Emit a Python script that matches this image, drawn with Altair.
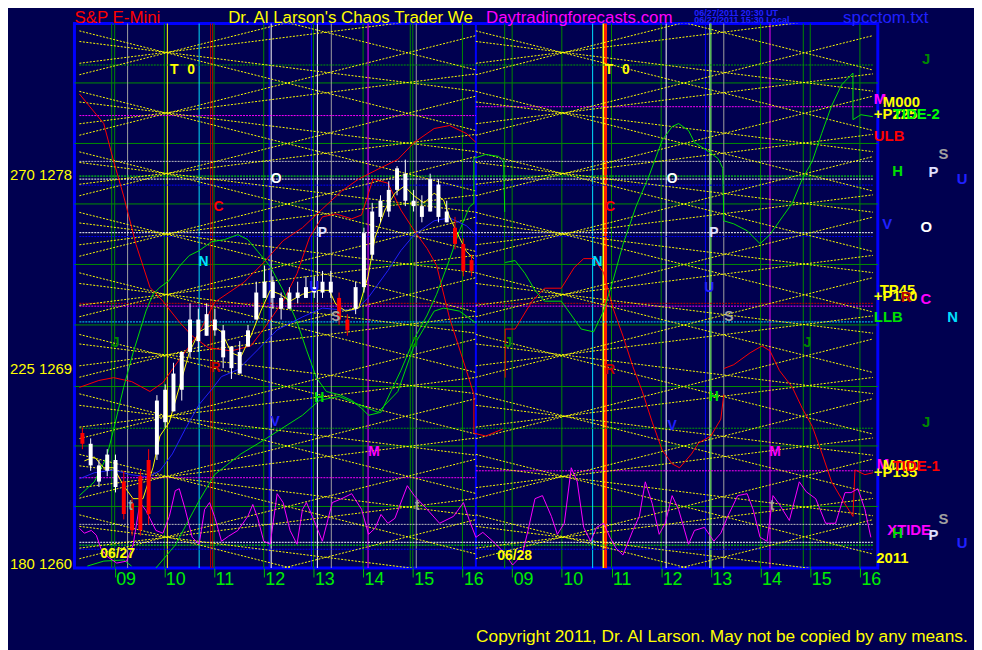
import altair as alt
import pandas as pd

FONT = "Liberation Sans"
BG = "#000050"

# ---------------- scales ----------------
X_DOMAIN = [0.29, 16.26]          # session hours: day1 h-8, day2 h
Y_DOMAIN = [1260.0, 1285.2]       # price
hour_ticks = list(range(1, 17))
hour_labels = ["09", "10", "11", "12", "13", "14", "15", "16",
               "09", "10", "11", "12", "13", "14", "15", "16"]
price_ticks = [1260, 1269, 1278]
price_tick_labels = ["180 1260", "225 1269", "270 1278"]

# ---------------- grid ----------------
green_levels = [1282.45, 1279.65, 1276.85, 1274.05, 1271.25, 1268.40, 1265.65, 1262.85]

vl_u = [0.94, 1.0, 1.26, 2.0, 2.06, 2.70, 2.93, 2.97, 3.0, 4.0, 4.11, 4.15, 4.96, 5.0,
        5.08, 5.36, 6.0, 6.10, 6.95, 7.0, 7.07, 8.0, 8.27, 8.85, 9.0, 10.0, 10.62,
        10.84, 10.88, 11.0, 12.0, 12.10, 12.89, 12.99, 13.0, 13.26, 14.0, 14.19,
        14.86, 15.0, 16.0]
vl_c = ["#008800", "#008800", "#a0a0a0", "#008800", "#ffff00", "#00e0ff", "#b00000",
        "#b00000", "#008800", "#008800", "#0000ff", "#ffffff", "#0000ff", "#008800",
        "#ffffff", "#a0a0a0", "#008800", "#ff00ff", "#008800", "#008800", "#a0a0a0",
        "#008800", "#0000ff", "#008800", "#008800", "#008800", "#00e0ff",
        "#ffff00", "#ff2000", "#008800", "#008800", "#ffffff", "#0000ff", "#e8ffe8",
        "#008800", "#a0a0a0", "#008800", "#ff00ff", "#008800", "#008800", "#008800"]
vl_w = [1, 1, 1, 1, 1, 1, 1, 1, 1, 1, 1, 1, 1, 1,
        1, 1, 1, 1, 1, 1, 1, 1, 2, 1, 1, 1, 1,
        2, 3, 1, 1, 1, 1, 2, 1, 1, 1, 1, 1, 1, 1]

# horizontal dotted levels: price, from, to, colour
hd_p = [1283.28, 1280.94, 1281.35, 1278.82, 1278.14, 1278.0, 1277.72, 1275.52, 1275.34,
        1272.25, 1272.12, 1271.39, 1266.47, 1264.18, 1264.5, 1262.02, 1261.19, 1261.06, 1260.87]
hd_a = [0.29, 0.29, 8.27, 0.29, 0.29, 0.29, 0.29, 0.29, 0.29,
        0.29, 0.29, 0.29, 0.29, 0.29, 8.27, 0.29, 0.29, 0.29, 0.29]
hd_b = [16.26, 8.27, 16.26, 16.26, 16.26, 16.26, 16.26, 16.26, 16.26,
        16.26, 16.26, 16.26, 16.26, 8.27, 16.26, 16.26, 16.26, 16.26, 16.26]
hd_c = ["#00a000", "#ff00ff", "#ff00ff", "#c0c0c0", "#00ff00", "#ffffff", "#0000ff", "#ffffff", "#0000ff",
        "#c00000", "#ff00ff", "#00e0ff", "#00a000", "#ff00ff", "#ff00ff", "#c0c0c0", "#ffffff", "#00ff00", "#0000ff"]

# ---------------- yellow projection lines: price at session open / close ----------------
yl1_left = [1287.66, 1284.86, 1282.06, 1279.26, 1276.46, 1273.66, 1270.81, 1268.06, 1265.26, 1262.46,
            1282.83, 1280.03, 1277.23, 1274.43, 1271.63, 1268.83, 1265.99, 1263.23, 1260.43, 1257.63,
            1284.37, 1281.57, 1278.77, 1275.97, 1273.17, 1270.37, 1267.53, 1264.73, 1261.93,
            1283.36, 1280.56, 1277.76, 1274.96, 1272.16, 1269.36, 1266.52, 1263.72, 1260.92]
yl1_right = [1283.05, 1280.25, 1277.45, 1274.65, 1271.85, 1269.05, 1266.20, 1263.45, 1260.65, 1257.85,
             1287.44, 1284.64, 1281.84, 1279.04, 1276.24, 1273.44, 1270.60, 1267.84, 1265.04, 1262.24,
             1282.07, 1279.27, 1276.47, 1273.67, 1270.87, 1268.07, 1265.22, 1262.42, 1259.62,
             1285.67, 1282.87, 1280.07, 1277.27, 1274.47, 1271.67, 1268.82, 1266.02, 1263.22]
yl2_left = list(yl1_left)
yl2_right = list(yl1_right)
day_open = [0.29, 8.27]
day_close = [8.27, 16.26]

# ---------------- candles (day 1, 10-minute bars) ----------------
bar_open = [1266.25, 1264.75, 1264.0, 1264.5, 1263.75, 1264.0, 1263.0, 1264.25, 1265.0, 1265.25,
            1266.75, 1267.25, 1268.25, 1270.0, 1270.5, 1270.75, 1271.5, 1271.0, 1270.25, 1269.0,
            1270.25, 1271.5, 1272.5, 1273.25, 1272.5, 1272.0, 1272.75, 1272.5, 1273.0, 1272.75,
            1273.25, 1272.5, 1271.5, 1272.0, 1273.0, 1274.5, 1276.25, 1276.5, 1277.5, 1278.25,
            1277.0, 1276.75, 1276.5, 1277.75, 1276.5, 1275.75, 1275.0, 1273.75]
bar_close = [1265.75, 1265.75, 1264.75, 1265.25, 1265.0, 1262.5, 1261.75, 1261.75, 1262.5, 1267.75,
             1268.25, 1269.0, 1270.0, 1271.5, 1271.5, 1271.75, 1271.0, 1269.75, 1269.25, 1270.0,
             1271.0, 1272.75, 1273.25, 1272.5, 1272.0, 1272.75, 1272.5, 1273.0, 1272.75, 1273.25,
             1272.75, 1271.5, 1271.0, 1273.0, 1275.5, 1276.5, 1277.0, 1277.5, 1278.5, 1277.0,
             1276.75, 1276.25, 1278.0, 1276.25, 1276.0, 1275.0, 1273.75, 1274.25]
bar_high = [1266.5, 1266.0, 1265.0, 1265.5, 1265.25, 1264.5, 1263.25, 1264.5, 1265.5, 1268.0,
            1268.5, 1269.5, 1270.0, 1272.25, 1272.0, 1272.25, 1272.0, 1271.25, 1270.25, 1270.5,
            1271.25, 1273.25, 1274.0, 1273.5, 1272.75, 1273.0, 1273.25, 1273.5, 1273.5, 1273.75,
            1273.75, 1272.75, 1271.75, 1273.25, 1275.75, 1276.9, 1277.25, 1277.9, 1278.6, 1278.9,
            1277.5, 1277.25, 1278.25, 1278.0, 1277.0, 1276.25, 1275.25, 1274.5]
bar_low = [1265.5, 1264.5, 1263.75, 1264.25, 1263.5, 1262.25, 1261.5, 1261.5, 1262.0, 1265.0,
           1266.5, 1267.25, 1267.75, 1269.75, 1270.0, 1270.75, 1270.75, 1269.25, 1268.75, 1269.0,
           1270.25, 1271.5, 1272.5, 1272.0, 1271.5, 1272.0, 1272.25, 1272.5, 1272.5, 1272.5,
           1272.5, 1271.25, 1270.75, 1271.75, 1272.75, 1274.25, 1276.0, 1276.25, 1277.25, 1276.75,
           1276.5, 1276.0, 1276.5, 1276.0, 1276.0, 1274.75, 1273.5, 1273.5]
bar_col = list("RWWWWRRRRWWWWWWWWWWWWWWWWWWWWWWRRWWWWWWWWWWWWRRR")

# ---------------- curves ----------------
curves = {
    "redA": ("#ff0000",
             [0.29, 0.78, 0.98, 1.18, 1.43, 1.71, 1.97, 2.30, 2.56, 2.89, 3.35, 3.74, 4.00, 4.39, 4.67,
              4.92, 5.18, 5.45, 5.77, 5.97, 6.20, 6.50, 6.76, 7.03, 7.29, 7.48, 7.74, 8.08, 8.23, 8.23,
              8.47, 8.81],
             [1281.94, 1280.57, 1278.82, 1277.22, 1274.97, 1272.99, 1272.35, 1271.39, 1270.74, 1270.19,
              1270.05, 1270.28, 1271.06, 1272.35, 1273.63, 1275.29, 1276.25, 1276.39, 1276.16, 1276.34,
              1278.0, 1277.81, 1276.57, 1275.61, 1274.78, 1274.0, 1271.57, 1269.14, 1268.03, 1266.24,
              1266.11, 1266.43]),
    "redB": ("#ff0000",
             [0.29, 0.68, 0.98, 1.34, 1.71, 1.97, 2.30, 2.70, 3.01, 3.60, 4.00, 4.39, 4.78, 5.18, 5.57,
              5.91, 6.30, 6.70, 7.03, 7.43, 7.74, 8.08, 8.27],
             [1268.36, 1268.68, 1268.81, 1268.63, 1268.17, 1268.58, 1269.64, 1270.88, 1272.30, 1273.22,
              1274.14, 1275.15, 1275.75, 1276.62, 1277.45, 1278.0, 1278.46, 1278.91, 1279.70, 1280.34,
              1280.48, 1280.11, 1279.70]),
    "redC": ("#ff0000",
             [8.86, 8.86, 9.06, 9.40, 9.65, 9.99, 10.25, 10.44, 10.64, 10.84, 11.03, 11.23, 11.43, 11.62,
              11.82, 12.02, 12.22, 12.37, 12.61, 12.75, 13.00, 13.20, 13.26],
             [1268.81, 1271.06, 1271.06, 1272.35, 1272.95, 1272.95, 1273.91, 1274.32, 1274.32, 1273.68,
              1272.03, 1270.74, 1269.32, 1268.17, 1266.75, 1265.46, 1264.82, 1264.64, 1265.28, 1265.78,
              1266.11, 1266.89, 1268.03]),
    "redD": ("#ff0000",
             [13.26, 13.46, 13.79, 14.03, 14.19, 14.38, 14.64, 14.84, 15.04, 15.24, 15.43, 15.63, 15.86,
              15.90, 16.10, 16.26],
             [1269.23, 1269.41, 1269.96, 1270.28, 1270.05, 1269.14, 1268.36, 1267.39, 1266.56, 1265.28,
              1263.99, 1263.21, 1262.39, 1264.54, 1264.32, 1264.41]),
    "grn1": ("#00e000",
             [0.29, 0.59, 0.84, 0.98, 1.18, 1.37, 1.63, 1.77, 1.91, 2.10, 2.30, 2.50, 2.70, 2.95, 3.21,
              3.48, 3.68, 3.88, 4.13, 4.39, 4.67, 4.86, 5.06, 5.26, 5.51, 5.77, 5.97, 6.11, 6.36, 6.76,
              7.03, 7.29, 7.48, 7.74, 7.94, 8.14, 8.23, 8.23, 8.47, 8.73, 8.83, 8.85],
             [1263.35, 1263.99, 1265.14, 1266.43, 1268.36, 1269.96, 1271.89, 1272.67, 1272.99, 1273.31,
              1273.96, 1274.46, 1274.69, 1275.10, 1275.20, 1275.43, 1275.20, 1274.65, 1273.96, 1272.85,
              1271.39, 1270.10, 1268.81, 1268.17, 1268.03, 1267.76, 1267.39, 1267.07, 1267.21, 1269.14,
              1270.61, 1271.71, 1272.67, 1274.28, 1275.61, 1276.71, 1276.89, 1278.96, 1279.14, 1279.05,
              1278.82, 1276.48]),
    "grn2": ("#00e000",
             [1.83, 2.22, 2.70, 3.01, 3.54, 4.00, 4.78, 5.12, 5.51, 5.91, 6.30, 6.70, 7.03, 7.43, 7.62,
              7.94, 8.27],
             [1260.0, 1261.06, 1263.12, 1264.32, 1265.28, 1265.92, 1267.07, 1267.76, 1267.94, 1267.57,
              1267.21, 1268.17, 1270.33, 1271.89, 1272.03, 1271.89, 1271.34]),
    "grn0": ("#00e000", [0.45, 0.78, 1.18, 1.34], [1260.09, 1260.32, 1260.37, 1260.09]),
    "grn3": ("#00e000",
             [8.86, 9.06, 9.26, 9.46, 9.65, 9.99, 10.19, 10.39, 10.64, 10.84, 11.03, 11.23, 11.49, 11.76,
              12.02, 12.22, 12.35, 12.55, 12.67, 12.95, 13.14, 13.24, 13.26, 13.46, 13.73, 13.99, 14.19,
              14.44, 14.64, 14.84, 15.04, 15.23, 15.43, 15.63, 15.86, 15.86, 16.02, 16.26],
             [1274.14, 1274.23, 1273.63, 1272.85, 1272.35, 1272.35, 1271.71, 1271.06, 1270.93, 1271.89,
              1273.31, 1274.97, 1276.71, 1278.18, 1279.79, 1280.43, 1280.57, 1280.25, 1279.70, 1279.28,
              1278.96, 1278.50, 1276.07, 1275.93, 1275.61, 1275.01, 1275.43, 1276.25, 1276.89, 1278.0,
              1278.82, 1280.11, 1281.39, 1282.36, 1282.91, 1280.75, 1280.98, 1280.89]),
    "blue": ("#2020ff",
             [0.29, 0.59, 0.98, 1.32, 1.67, 1.91, 2.16, 2.42, 2.70, 2.95, 3.15, 3.48, 3.88, 4.27, 4.78,
              5.18, 5.61, 5.85, 6.11, 6.50, 6.76, 7.03, 7.43, 7.74, 8.08, 8.27],
             [1264.13, 1264.41, 1264.54, 1264.32, 1264.22, 1264.50, 1265.28, 1266.43, 1267.57, 1268.26,
              1268.86, 1269.18, 1270.10, 1271.02, 1271.62, 1272.03, 1271.94, 1271.94, 1272.53, 1273.77,
              1274.69, 1275.43, 1276.07, 1276.21, 1275.84, 1275.43]),
    "yma": ("#ffff00",
            [0.39, 0.59, 0.78, 0.98, 1.18, 1.37, 1.57, 1.77, 1.91, 2.10, 2.30, 2.50, 2.70, 2.95, 3.15,
             3.35, 3.54, 3.74, 3.94, 4.13, 4.33, 4.53, 4.78, 5.06, 5.32, 5.45, 5.65, 5.91, 6.10, 6.24,
             6.44, 6.64, 6.83, 7.03, 7.23, 7.43, 7.62, 7.74, 7.94, 8.08, 8.23],
            [1264.96, 1265.14, 1264.64, 1264.64, 1263.81, 1263.21, 1263.21, 1264.64, 1266.11, 1266.75,
             1268.36, 1269.96, 1270.93, 1271.25, 1270.93, 1269.96, 1269.78, 1270.74, 1271.89, 1272.85,
             1272.67, 1272.35, 1272.67, 1272.85, 1272.85, 1272.21, 1271.89, 1272.03, 1273.50, 1275.29,
             1276.57, 1277.35, 1277.67, 1277.22, 1276.89, 1277.35, 1277.03, 1276.25, 1275.29, 1274.65,
             1274.32]),
    "mag1": ("#ff00ff",
             [0.29, 0.39, 0.53, 0.63, 0.72, 0.84, 1.04, 1.24, 1.37, 1.51, 1.63, 1.83, 1.97, 2.10, 2.22,
              2.30, 2.42, 2.56, 2.70, 2.81, 2.91, 3.01, 3.15, 3.29, 3.48, 3.68, 3.78, 3.88, 4.00, 4.13,
              4.27, 4.39, 4.53, 4.67, 4.78, 4.86, 4.98, 5.18, 5.38, 5.57, 5.77, 5.97, 6.11, 6.24, 6.36,
              6.50, 6.64, 6.89, 7.03, 7.29, 7.54, 7.82, 8.02, 8.14, 8.27],
             [1261.84, 1261.61, 1261.74, 1261.52, 1260.92, 1260.55, 1260.23, 1260.32, 1261.06, 1263.03,
              1262.66, 1261.74, 1261.61, 1262.39, 1263.58, 1263.67, 1262.71, 1261.42, 1261.10, 1262.71,
              1263.03, 1262.39, 1261.24, 1261.47, 1261.74, 1262.39, 1262.94, 1262.30, 1261.24, 1261.10,
              1263.44, 1263.03, 1261.74, 1261.10, 1262.71, 1263.03, 1262.39, 1261.24, 1263.03, 1263.21,
              1263.44, 1262.71, 1261.56, 1261.84, 1262.48, 1262.07, 1262.30, 1263.81, 1263.35, 1262.71,
              1262.07, 1262.39, 1263.03, 1262.20, 1261.42]),
    "mag2": ("#ff00ff",
             [8.27, 8.41, 8.61, 8.81, 9.01, 9.20, 9.32, 9.46, 9.61, 9.79, 9.91, 10.05, 10.19, 10.31,
              10.44, 10.58, 10.70, 10.84, 10.97, 11.09, 11.23, 11.43, 11.56, 11.68, 11.82, 11.96, 12.08,
              12.22, 12.35, 12.55, 12.67, 12.87, 13.06, 13.20, 13.34, 13.54, 13.73, 13.85, 13.99, 14.13,
              14.25, 14.38, 14.58, 14.78, 14.92, 15.11, 15.31, 15.51, 15.70, 15.82, 15.96, 16.10, 16.22],
             [1261.42, 1261.65, 1261.24, 1260.78, 1260.14, 1260.60, 1261.74, 1263.21, 1263.35, 1262.39,
              1261.56, 1262.07, 1264.64, 1263.99, 1261.88, 1261.24, 1261.88, 1262.07, 1261.42, 1260.92,
              1260.60, 1261.74, 1262.39, 1263.99, 1262.98, 1261.56, 1262.07, 1263.35, 1262.71, 1261.10,
              1261.74, 1261.88, 1261.24, 1261.61, 1262.39, 1263.35, 1263.44, 1262.71, 1261.42, 1261.24,
              1263.35, 1262.94, 1262.20, 1263.99, 1263.53, 1263.21, 1262.07, 1262.07, 1263.49, 1263.49,
              1263.67, 1262.71, 1261.42]),
}

# ---------------- in-plot letters ----------------
lab_t = ["T", "0", "T", "0", "O", "O", "C", "C", "P", "P", "N", "N", "R", "R", "U", "U",
         "S", "S", "J", "J", "J", "J", "H", "H", "V", "V", "M", "M", "t", "t", "t",
         "06/27", "06/28"]
lab_u = [2.20, 2.54, 10.95, 11.29, 4.25, 12.22, 3.09, 10.97, 5.18, 13.06, 2.79, 10.72, 3.03, 10.97,
         5.02, 12.97, 5.45, 13.36, 1.02, 7.03, 8.92, 14.94, 5.12, 13.06, 4.23, 12.22, 6.22, 14.29,
         1.32, 7.09, 14.23, 1.06, 9.05]
lab_p = [1283.05, 1283.05, 1283.05, 1283.05, 1278.0, 1278.0, 1276.7, 1276.7, 1275.5, 1275.5,
         1274.14, 1274.14, 1269.27, 1269.18, 1273.0, 1272.95, 1271.6, 1271.6, 1270.42, 1270.42,
         1270.42, 1270.42, 1267.85, 1267.9, 1266.75, 1266.56, 1265.37, 1265.37, 1262.85, 1262.85,
         1262.85, 1260.64, 1260.55]
lab_c = ["#ffff00", "#ffff00", "#ffff00", "#ffff00", "#ffffff", "#ffffff", "#ff0000", "#ff0000",
         "#e0e0ff", "#e0e0ff", "#00e0ff", "#00e0ff", "#c00000", "#c00000", "#2020ff", "#2020ff",
         "#a0a0a0", "#a0a0a0", "#008800", "#008800", "#008800", "#008800", "#00e000", "#00e000",
         "#2020ff", "#2020ff", "#ff00ff", "#ff00ff", "#a0a0a0", "#a0a0a0", "#a0a0a0",
         "#ffff00", "#ffff00"]

# ---------------- right-margin legend letters ----------------
rl_t = ["J", "M", "M000", "+P225", "TIDE-2", "ULB", "S", "H", "P", "U", "V", "O", "TP45", "+P160",
        "R", "C", "LLB", "N", "J", "M", "M000", "+P135", "TIDE-1", "S", "XTIDE", "H", "P", "U", "2011"]
rl_u = [17.25, 16.28, 16.46, 16.28, 16.66, 16.28, 17.58, 16.65, 17.38, 17.95, 16.45, 17.22, 16.40,
        16.28, 16.82, 17.22, 16.28, 17.76, 17.25, 16.34, 16.46, 16.28, 16.66, 17.58, 16.55, 16.65,
        17.38, 17.95, 16.33]
rl_p = [1283.55, 1281.72, 1281.55, 1281.0, 1281.0, 1279.97, 1279.14, 1278.36, 1278.32, 1278.0,
        1275.93, 1275.79, 1272.85, 1272.6, 1272.53, 1272.44, 1271.62, 1271.62, 1266.75, 1264.82,
        1264.75, 1264.45, 1264.73, 1262.25, 1261.74, 1261.6, 1261.52, 1261.15, 1260.46]
rl_c = ["#008800", "#ff00ff", "#ffff00", "#ffff00", "#00ff00", "#ff0000", "#a0a0a0", "#00e000",
        "#e0e0ff", "#2020ff", "#2020ff", "#ffffff", "#ffff00", "#ffff00", "#c00000", "#ff00ff",
        "#00e000", "#00e0ff", "#008800", "#ff00ff", "#ffff00", "#ffff00", "#ff0000", "#a0a0a0",
        "#ff00ff", "#00e000", "#e0e0ff", "#2020ff", "#ffff00"]

# ---------------- header / footer text ----------------
hdr_t = ["S&P E-Mini", "Dr. Al Larson's Chaos Trader We", "Daytradingforecasts.com",
         "spcctom.txt"]
hdr_c = ["#ff0000", "#ffff00", "#ff00ff", "#2020ff"]
hdr_px = [0, 155, 415, 775]
foot_t = ["Copyright 2011, Dr. Al Larson. May not be copied by any means."]
foot_px = [405]
foot_py = [619]
stamp_t = ["06/27/2011 20:30 UT", "06/27/2011 15:30 Local"]
stamp_px = [625, 625]
stamp_py = [-8, -1]

# =========================================================
xs = alt.Scale(domain=X_DOMAIN, nice=False, zero=False)
ys = alt.Scale(domain=Y_DOMAIN, nice=False, zero=False)

lab_expr_x = "[" + ",".join("'%s'" % s for s in hour_labels) + "][datum.value - 1]"
lab_expr_y = " : ".join("datum.value == %d ? '%s'" % (v, s)
                        for v, s in zip(price_ticks, price_tick_labels)) + " : ''"

x_axis = alt.Axis(values=hour_ticks, labelExpr=lab_expr_x, title=None, domain=False, grid=False,
                  ticks=True, tickColor="#00c000", tickSize=9, labelColor="#00ee00",
                  labelFont=FONT, labelFontSize=18, labelAlign="left", labelOffset=1,
                  labelBaseline="top", labelPadding=-6, labelFlush=False, labelOverlap=False)
y_axis = alt.Axis(values=price_ticks, labelExpr=lab_expr_y, title=None, domain=False, grid=False,
                  ticks=False, labelColor="#ffff00", labelFont=FONT, labelFontSize=15,
                  labelBaseline="alphabetic", labelPadding=3, labelOverlap=False, labelLimit=80)

def X(field):
    return alt.X(field, type="quantitative", scale=xs, axis=x_axis)

def Y(field):
    return alt.Y(field, type="quantitative", scale=ys, axis=y_axis)

# data frames
hgrid_df = pd.DataFrame({"p": green_levels})
vl_df = pd.DataFrame({"u": vl_u, "c": vl_c, "w": vl_w})
hd_df = pd.DataFrame({"p": hd_p, "a": hd_a, "b": hd_b, "c": hd_c})

rows = []
for d, (lefts, rights) in enumerate([(yl1_left, yl1_right), (yl2_left, yl2_right)]):
    for i, (pl, pr) in enumerate(zip(lefts, rights)):
        rows.append({"id": "d%d_%d" % (d, i), "k": 0, "u": day_open[d], "p": pl})
        rows.append({"id": "d%d_%d" % (d, i), "k": 1, "u": day_close[d], "p": pr})
yl_df = pd.DataFrame(rows)

rows = []
for name, (col, us, ps) in curves.items():
    for k, (u, p) in enumerate(zip(us, ps)):
        rows.append({"id": name, "k": k, "u": u, "p": p, "c": col})
cv_df = pd.DataFrame(rows)

bar_u = [0.35 + k / 6.0 for k in range(len(bar_open))]
bar_df = pd.DataFrame({"u": bar_u, "o": bar_open, "c": bar_close, "h": bar_high, "l": bar_low,
                       "col": ["#ffffff" if s == "W" else "#ff0000" for s in bar_col]})

lab_df = pd.DataFrame({"u": lab_u, "p": lab_p, "t": lab_t, "c": lab_c})
rl_df = pd.DataFrame({"u": rl_u, "p": rl_p, "t": rl_t, "c": rl_c})
hdr_df = pd.DataFrame({"t": hdr_t, "c": hdr_c, "px": hdr_px, "py": [-1] * len(hdr_t)})
foot_df = pd.DataFrame({"t": foot_t, "px": foot_px, "py": foot_py})
stamp_df = pd.DataFrame({"t": stamp_t, "px": stamp_px, "py": stamp_py})

hgrid = alt.Chart(hgrid_df).mark_rule(color="#009000", strokeWidth=1).encode(y=Y("p"))
vlines = alt.Chart(vl_df).mark_rule().encode(
    x=X("u"), color=alt.Color("c:N", scale=None), strokeWidth=alt.StrokeWidth("w:Q", scale=None))
hdots = alt.Chart(hd_df).mark_rule(strokeDash=[2, 1], strokeWidth=1).encode(
    x=X("a"), x2="b", y=Y("p"), color=alt.Color("c:N", scale=None))
ylines = alt.Chart(yl_df).mark_line(color="#ffff00", strokeDash=[2, 1.5], strokeWidth=1, clip=True).encode(
    x=X("u"), y=Y("p"), detail="id:N", order="k:Q")
clines = alt.Chart(cv_df).mark_line(strokeWidth=1).encode(
    x=X("u"), y=Y("p"), detail="id:N", order="k:Q", color=alt.Color("c:N", scale=None))
wicks = alt.Chart(bar_df).mark_rule(strokeWidth=1).encode(
    x=X("u"), y=Y("l"), y2="h", color=alt.Color("col:N", scale=None))
bodies = alt.Chart(bar_df).mark_bar(size=4).encode(
    x=X("u"), y=Y("o"), y2="c", color=alt.Color("col:N", scale=None))
letters = alt.Chart(lab_df).mark_text(font=FONT, fontSize=14, fontWeight="bold").encode(
    x=X("u"), y=Y("p"), text="t:N", color=alt.Color("c:N", scale=None))
rletters = alt.Chart(rl_df).mark_text(font=FONT, fontSize=15, fontWeight="bold", align="left").encode(
    x=X("u"), y=Y("p"), text="t:N", color=alt.Color("c:N", scale=None))
header = alt.Chart(hdr_df).mark_text(font=FONT, fontSize=17, align="left", baseline="alphabetic").encode(
    x=alt.X("px:Q", scale=None), y=alt.Y("py:Q", scale=None), text="t:N",
    color=alt.Color("c:N", scale=None))
footer = alt.Chart(foot_df).mark_text(font=FONT, fontSize=17.4, color="#ffff00", align="left",
                                      baseline="middle").encode(
    x=alt.X("px:Q", scale=None), y=alt.Y("py:Q", scale=None), text="t:N")
stamps = alt.Chart(stamp_df).mark_text(font=FONT, fontSize=9, fontWeight="bold", color="#2020ff",
                                       align="left", baseline="alphabetic").encode(
    x=alt.X("px:Q", scale=None), y=alt.Y("py:Q", scale=None), text="t:N")

chart = alt.layer(hgrid, vlines, hdots, ylines, clines, wicks, bodies, letters, rletters,
                  header, footer, stamps).properties(
    width=810, height=549,
    autosize=alt.AutoSizeParams(type="none"),
    padding={"left": 67, "top": 13, "right": 97, "bottom": 80},
    background=BG,
).configure_view(fill=BG, stroke="#0000ff", strokeWidth=3)

chart.save("out.html", embed_options={"renderer": "svg", "actions": False})
